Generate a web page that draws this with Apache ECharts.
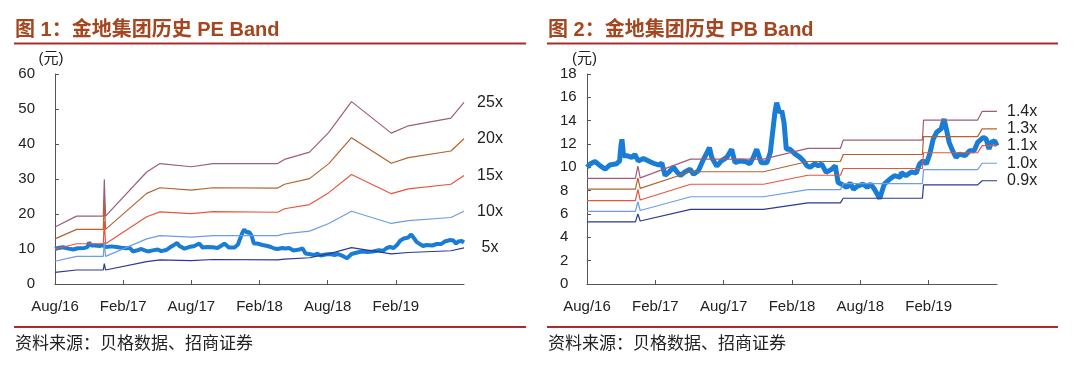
<!DOCTYPE html>
<html>
<head>
<meta charset="utf-8">
<title>金地集团历史 PE / PB Band</title>
<script src="https://cdn.jsdelivr.net/npm/echarts@6/dist/echarts.min.js"></script>
<style>
  html, body { margin: 0; padding: 0; background: #fff; }
  #band_chart { width: 1080px; height: 377px; }
</style>
</head>
<body>
<div id="band_chart"></div>
<script>
// x 轴：从 2016 年 8 月起的月数
var monthTicks = [0, 6, 12, 18, 24, 30];
var monthLabels = ["Aug/16", "Feb/17", "Aug/17", "Feb/18", "Aug/18", "Feb/19"];

// 股价（元），两张图共用
var priceX = [0, 0.3, 0.7, 1.2, 1.6, 2.0, 2.6, 2.86, 2.98, 3.07, 3.21, 3.5, 3.94, 4.2, 4.5, 4.96, 5.4, 5.84,
  6.28, 6.57, 6.86, 7.16, 7.6, 7.9, 8.2, 8.6, 9.05, 9.35, 9.78, 10.16, 10.45, 10.75, 10.95, 11.4, 11.8,
  12.27, 12.7, 13.0, 13.4, 13.9, 14.3, 14.6, 14.9, 15.3, 15.8, 16.1, 16.3, 16.5, 16.65, 16.9, 17.1, 17.3,
  17.5, 17.8, 18.26, 18.7, 19.0, 19.3, 19.6, 20.0, 20.3, 20.6, 21.0, 21.5, 21.8, 22.05, 22.35, 22.8, 23.1,
  23.4, 23.8, 24.25, 24.6, 24.9, 25.2, 25.7, 26.1, 26.6, 27.0, 27.5, 27.6, 28.0, 28.5, 28.9, 29.2, 29.5,
  29.8, 30.1, 30.4, 30.7, 31.1, 31.35, 31.55, 31.8, 32.1, 32.4, 32.7, 33.2, 33.6, 34.0, 34.3, 34.8, 35.05,
  35.3, 35.5, 35.8, 36.0];
var priceY = [10.0, 10.3, 10.5, 10.1, 9.85, 10.2, 10.3, 10.55, 11.85, 12.4, 11.0, 11.0, 10.85, 11.1, 10.55, 10.75, 10.55, 10.35,
  10.2, 10.35, 9.3, 9.56, 10.0, 9.6, 9.3, 9.6, 9.85, 9.4, 9.7, 10.55, 11.1, 11.7, 10.85, 10.1, 10.55,
  10.85, 11.55, 10.4, 10.55, 10.5, 10.3, 10.85, 11.55, 10.4, 10.4, 11.3, 13.0, 14.7, 15.55, 14.7, 14.85, 13.85,
  11.55, 11.57, 11.15, 10.85, 10.57, 10.14, 10.0, 10.3, 10.14, 10.3, 9.57, 9.85, 10.14, 8.7, 8.56, 8.28, 8.65,
  8.13, 8.42, 8.56, 8.28, 8.56, 8.19, 7.33, 8.56, 9.0, 9.28, 9.13, 9.56, 9.28, 9.62, 9.5, 10.28, 10.57,
  10.28, 11.15, 12.43, 13.0, 13.3, 14.14, 13.3, 12.14, 11.43, 10.85, 11.14, 11.0, 11.43, 11.43, 12.14, 12.57, 12.43,
  11.57, 12.14, 12.28, 11.85];

// PE Band
var peX = [0, 1.9, 4.25, 4.34, 4.45, 8.07, 9.24, 12.0, 13.9, 19.6, 20.2, 22.4, 24.1, 26.1, 29.6, 31.1, 34.85, 36];
var pe25 = [16.3, 19.4, 19.4, 29.9, 19.4, 32.0, 34.4, 33.5, 34.4, 34.4, 35.6, 37.7, 43.3, 52.1, 43.1, 45.2, 47.4, 51.9];
var pe20 = [12.9, 15.6, 15.6, 23.9, 15.6, 25.9, 27.5, 26.8, 27.5, 27.4, 28.5, 30.1, 34.4, 41.8, 34.5, 36.1, 38.0, 41.5];
var pe15 = [10.0, 11.5, 11.5, 17.9, 11.5, 19.2, 20.6, 20.1, 20.7, 20.5, 21.5, 22.7, 26.1, 31.3, 25.8, 27.2, 28.5, 31.0];
var pe10 = [6.5, 7.9, 7.9, 12.0, 7.9, 12.9, 13.8, 13.4, 13.8, 13.8, 14.3, 15.1, 17.3, 20.8, 17.3, 18.1, 19.0, 20.8];
var pe5 = [3.3, 4.0, 4.0, 5.8, 4.0, 6.4, 6.9, 6.7, 7.0, 6.9, 7.1, 7.5, 8.6, 10.4, 8.6, 9.0, 9.5, 10.3];

// PB Band
var pbX = [0, 4.25, 4.47, 4.67, 9.1, 15.5, 19.4, 22.25, 22.5, 29.45, 29.55, 34.3, 34.7, 36];
var pb14 = [9.05, 9.05, 10.1, 9.1, 10.7, 10.7, 11.62, 11.62, 12.34, 12.34, 14.05, 14.05, 14.8, 14.8];
var pb13 = [8.13, 8.13, 9.1, 8.2, 9.62, 9.62, 10.5, 10.5, 11.1, 11.1, 12.63, 12.63, 13.3, 13.3];
var pb11 = [7.15, 7.15, 8.1, 7.2, 8.55, 8.55, 9.32, 9.32, 9.9, 9.9, 11.25, 11.25, 11.86, 11.86];
var pb10 = [6.22, 6.22, 7.05, 6.3, 7.48, 7.48, 8.09, 8.09, 8.6, 8.6, 9.8, 9.8, 10.35, 10.35];
var pb09 = [5.33, 5.33, 6.0, 5.4, 6.4, 6.4, 6.95, 6.95, 7.35, 7.35, 8.5, 8.5, 8.85, 8.85];

var bandColors = ["#9e5d7c", "#b5622f", "#e9553c", "#6d9de3", "#2b3a8f"];
var priceColor = "#1a7dd5";
var latinFont = "'Liberation Sans', 'Noto Sans CJK SC', sans-serif";

function zip(xs, ys) {
  return xs.map(function (x, i) { return [x, ys[i]]; });
}

function bandSeries(name, xs, ys, idx, color, labelCfg) {
  return {
    name: name,
    type: "line",
    xAxisIndex: idx,
    yAxisIndex: idx,
    data: zip(xs, ys),
    symbol: "none",
    lineStyle: { color: color, width: 1.2 },
    itemStyle: { color: color },
    endLabel: Object.assign({
      show: true,
      formatter: "{a}",
      fontSize: 16,
      color: "#222",
      fontFamily: latinFont
    }, labelCfg)
  };
}

function priceSeries(idx, width) {
  return {
    name: "股价",
    type: "line",
    xAxisIndex: idx,
    yAxisIndex: idx,
    data: zip(priceX, priceY),
    symbol: "none",
    lineStyle: { color: priceColor, width: width },
    itemStyle: { color: priceColor }
  };
}

function xAxisCfg(idx) {
  return {
    gridIndex: idx,
    type: "value",
    min: 0,
    max: 36,
    interval: 6,
    axisLine: { show: true, lineStyle: { color: "#555" } },
    axisTick: { show: true, inside: true, length: 4, customValues: monthTicks, lineStyle: { color: "#555" } },
    axisLabel: {
      customValues: monthTicks,
      fontSize: 15,
      color: "#222",
      fontFamily: latinFont,
      margin: 15,
      formatter: function (v) {
        var i = monthTicks.indexOf(v);
        return i >= 0 ? monthLabels[i] : "";
      }
    },
    splitLine: { show: false }
  };
}

function yAxisCfg(idx, max, interval, labelCfg, namePad) {
  return {
    gridIndex: idx,
    type: "value",
    min: 0,
    max: max,
    interval: interval,
    name: "(元)",
    nameLocation: "end",
    nameGap: 3,
    nameTextStyle: { fontSize: 15, color: "#222", fontFamily: latinFont, padding: namePad },
    axisLine: { show: true, lineStyle: { color: "#555" } },
    axisTick: { show: true, inside: true, length: 4, lineStyle: { color: "#555" } },
    axisLabel: Object.assign({ fontSize: 15, color: "#222", fontFamily: latinFont }, labelCfg),
    splitLine: { show: false }
  };
}

var titleStyle = { fontSize: 20, fontWeight: "bold", color: "#a4461f", fontFamily: latinFont };
var sourceStyle = { fontSize: 17, fontWeight: "normal", color: "#222", fontFamily: latinFont };
var ruleStyle = { stroke: "#a82c2c", lineWidth: 2 };

var peLabel = { distance: 26, align: "center" };
var pbLabel = { distance: 10 };

var option = {
  animation: false,
  backgroundColor: "#fff",
  title: [
    { text: "图 1：金地集团历史 PE Band", left: 15, top: 20, padding: 0, textStyle: titleStyle },
    { text: "图 2：金地集团历史 PB Band", left: 548, top: 20, padding: 0, textStyle: titleStyle },
    { text: "资料来源：贝格数据、招商证券", left: 15, top: 336, padding: 0, textStyle: sourceStyle },
    { text: "资料来源：贝格数据、招商证券", left: 548, top: 336, padding: 0, textStyle: sourceStyle }
  ],
  graphic: [
    { type: "line", shape: { x1: 14, y1: 43.5, x2: 526, y2: 43.5 }, style: ruleStyle },
    { type: "line", shape: { x1: 547, y1: 43.5, x2: 1058, y2: 43.5 }, style: ruleStyle },
    { type: "line", shape: { x1: 14, y1: 327, x2: 526, y2: 327 }, style: ruleStyle },
    { type: "line", shape: { x1: 547, y1: 327, x2: 1058, y2: 327 }, style: ruleStyle }
  ],
  grid: [
    { left: 55, top: 74, width: 409, height: 210 },
    { left: 587, top: 74, width: 410, height: 210 }
  ],
  xAxis: [xAxisCfg(0), xAxisCfg(1)],
  yAxis: [
    yAxisCfg(0, 60, 10, { margin: 20 }, [0, 8, 0, 0]),
    yAxisCfg(1, 18, 2, { margin: 27, align: "left" }, [0, 5, 0, 0])
  ],
  series: [
    priceSeries(0, 4),
    bandSeries("25x", peX, pe25, 0, bandColors[0], peLabel),
    bandSeries("20x", peX, pe20, 0, bandColors[1], peLabel),
    bandSeries("15x", peX, pe15, 0, bandColors[2], peLabel),
    bandSeries("10x", peX, pe10, 0, bandColors[3], peLabel),
    bandSeries("5x", peX, pe5, 0, bandColors[4], peLabel),
    priceSeries(1, 5),
    bandSeries("1.4x", pbX, pb14, 1, bandColors[0], pbLabel),
    bandSeries("1.3x", pbX, pb13, 1, bandColors[1], pbLabel),
    bandSeries("1.1x", pbX, pb11, 1, bandColors[2], pbLabel),
    bandSeries("1.0x", pbX, pb10, 1, bandColors[3], pbLabel),
    bandSeries("0.9x", pbX, pb09, 1, bandColors[4], pbLabel)
  ]
};

var myChart = echarts.init(document.getElementById("band_chart"));
myChart.setOption(option);
</script>
</body>
</html>
